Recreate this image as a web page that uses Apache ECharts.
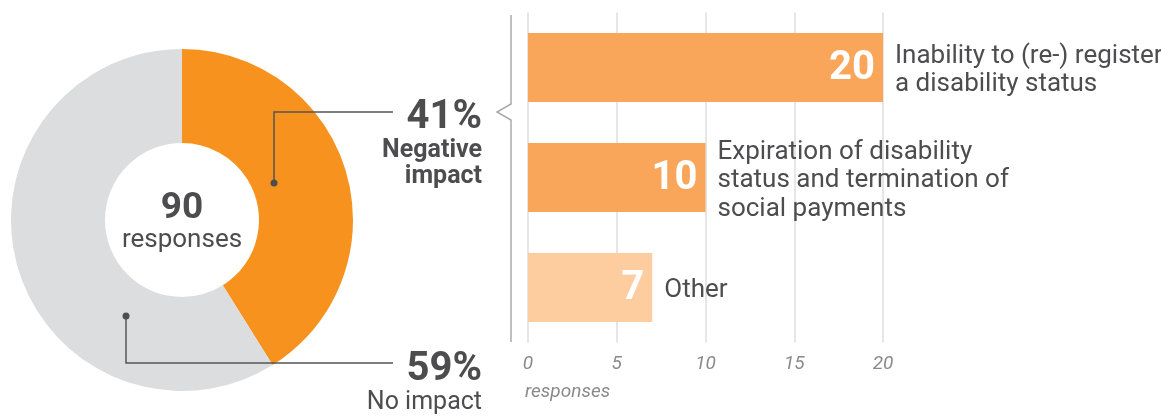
<!DOCTYPE html>
<html>
<head>
<meta charset="utf-8">
<script src="https://cdn.jsdelivr.net/npm/echarts@6/dist/echarts.min.js"></script>
<style>
html,body{margin:0;padding:0;background:#fff;}
#c{width:1161px;height:417px;}
</style>
</head>
<body>
<div id="c"></div>
<script>
// ---- data ----
const pieNames = ['Negative impact', 'No impact'];
const pieLabelLines = [['Negative', 'impact'], ['No impact']];
const pieValues = [37, 53];
const barCategories = [
  'Inability to (re-) register\na disability status',
  'Expiration of disability\nstatus and termination of\nsocial payments',
  'Other'
];
const barValues = [20, 10, 7];
const xTicks = [0, 5, 10, 15, 20];
const axisName = 'responses';
const centerLabel = 'responses';

// ---- style ----
const FONT = 'Roboto';
const TEXT = '#4d4d4f';
const pieColors = ['#f7921e', '#dcddde'];
const barColors = ['#f9a65a', '#f9a65a', '#fecd9f'];
const total = pieValues.reduce((a, b) => a + b, 0);

const chart = echarts.init(document.getElementById('c'), null, {renderer: 'canvas'});

const labelPlacement = [{x: 482, y: 98}, {x: 482, y: 350}];
const leaderLines = [
  [[274, 183], [274, 112], [393, 112]],
  [[126, 316], [126, 363], [393, 363]]
];

chart.setOption({
  animation: false,
  textStyle: {fontFamily: FONT},
  grid: {left: 528, width: 355, top: 12.5, height: 330},
  xAxis: {
    type: 'value', min: xTicks[0], max: xTicks[xTicks.length - 1], interval: xTicks[1] - xTicks[0],
    axisLine: {show: false}, axisTick: {show: false},
    splitLine: {show: true, lineStyle: {color: '#dedede', width: 1.5}},
    axisLabel: {color: '#8a8a8a', fontSize: 19, fontStyle: 'italic', fontFamily: FONT, margin: 12},
    name: axisName, nameLocation: 'start', nameGap: 3,
    nameTextStyle: {color: '#8a8a8a', fontSize: 19, fontStyle: 'italic', fontFamily: FONT,
      align: 'left', verticalAlign: 'top', padding: [40, 0, 0, 0]}
  },
  yAxis: {
    type: 'category', data: barCategories, inverse: true,
    axisLine: {show: false}, axisTick: {show: false}, axisLabel: {show: false}, splitLine: {show: false}
  },
  series: [
    {
      type: 'pie', center: [182, 220], radius: [77, 171], startAngle: 90, clockwise: true,
      silent: true,
      data: pieValues.map((v, i) => ({name: pieNames[i], value: v, itemStyle: {color: pieColors[i]}})),
      label: {
        show: true, position: 'outside', color: TEXT, fontFamily: FONT, overflow: 'none', width: 300,
        formatter: function (p) {
          const pct = Math.round(p.value / total * 100) + '%';
          const st = p.dataIndex === 0 ? 'nb' : 'nr';
          return ['{pct|' + pct + '}'].concat(pieLabelLines[p.dataIndex].map(s => '{' + st + '|' + s + '}')).join('\n');
        },
        rich: {
          pct: {fontSize: 40, fontWeight: 'bold', lineHeight: 40, color: TEXT, fontFamily: FONT, align: 'right'},
          nb: {fontSize: 25, fontWeight: 'bold', lineHeight: 26, color: TEXT, fontFamily: FONT, align: 'right'},
          nr: {fontSize: 25, fontWeight: 'normal', lineHeight: 26, color: TEXT, fontFamily: FONT, align: 'right'}
        }
      },
      labelLine: {show: false},
      labelLayout: function (p) {
        const L = labelPlacement[p.dataIndex];
        return {x: L.x, y: L.y, align: 'right', verticalAlign: 'top', hideOverlap: false};
      }
    },
    {
      type: 'bar', barWidth: 69, silent: true, z: 3,
      data: barValues.map((v, i) => ({value: v, itemStyle: {color: barColors[i]}})),
      label: {show: true, position: 'insideRight', distance: 8, offset: [0, 1], color: '#fff',
        fontSize: 40, fontWeight: 'bold', fontFamily: FONT}
    },
    {
      type: 'bar', barWidth: 69, barGap: '-100%', silent: true, z: 2,
      data: barValues,
      itemStyle: {color: 'rgba(0,0,0,0)'},
      label: {show: true, position: 'right', distance: 12, offset: [0, 3], color: TEXT, fontSize: 26, lineHeight: 28.5,
        fontFamily: FONT, formatter: p => barCategories[p.dataIndex]}
    }
  ],
  graphic: [
    {type: 'polyline', z: 100, silent: true,
      shape: {points: [[511, 15], [511, 104], [497, 112], [511, 120], [511, 342]]},
      style: {stroke: '#aaaaaa', lineWidth: 1.5, fill: null}},
    {type: 'polyline', z: 100, silent: true, shape: {points: leaderLines[0]},
      style: {stroke: '#555555', lineWidth: 1.5, fill: null}},
    {type: 'polyline', z: 100, silent: true, shape: {points: leaderLines[1]},
      style: {stroke: '#555555', lineWidth: 1.5, fill: null}},
    {type: 'circle', z: 101, silent: true, shape: {cx: leaderLines[0][0][0], cy: leaderLines[0][0][1], r: 3.5}, style: {fill: '#4d4d4f'}},
    {type: 'circle', z: 101, silent: true, shape: {cx: leaderLines[1][0][0], cy: leaderLines[1][0][1], r: 3.5}, style: {fill: '#4d4d4f'}},
    {type: 'text', z: 100, silent: true, x: 182, y: 209,
      style: {text: String(total), font: 'bold 37px Roboto', fill: TEXT, align: 'center', verticalAlign: 'middle'}},
    {type: 'text', z: 100, silent: true, x: 182, y: 240,
      style: {text: centerLabel, font: '26px Roboto', fill: TEXT, align: 'center', verticalAlign: 'middle'}}
  ]
});
</script>
</body>
</html>
